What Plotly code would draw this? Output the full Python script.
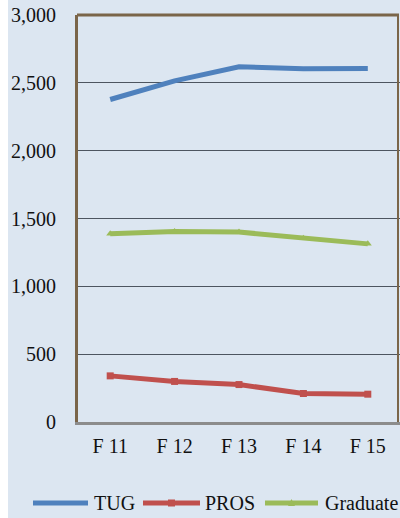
import plotly.graph_objects as go

categories = ["F 11", "F 12", "F 13", "F 14", "F 15"]
tug = [2377, 2515, 2618, 2604, 2606]
pros = [340, 299, 276, 210, 205]
graduate = [1387, 1404, 1400, 1355, 1313]
y_ticks = [0, 500, 1000, 1500, 2000, 2500, 3000]
y_tick_labels = ["0", "500", "1,000", "1,500", "2,000", "2,500", "3,000"]
series_names = ["TUG", "PROS", "Graduate"]
series_colors = ["#4f81bd", "#c0504d", "#9bbb59"]

BG = "#dce6f1"
FONT = "Liberation Serif, Times New Roman, serif"
W, H = 400, 518
L, R, T, B = 78, 0, 15, 96
PW, PH = W - L - R, H - T - B


def px_x(px):
    return (px - L) / PW


def px_y(py):
    return 1 - (py - T) / PH


fig = go.Figure()
fig.add_trace(go.Scatter(x=categories, y=tug, name=series_names[0], mode="lines",
                         line=dict(color=series_colors[0], width=5)))
fig.add_trace(go.Scatter(x=categories, y=pros, name=series_names[1], mode="lines+markers",
                         line=dict(color=series_colors[1], width=5),
                         marker=dict(symbol="square", size=7, color=series_colors[1])))
fig.add_trace(go.Scatter(x=categories, y=graduate, name=series_names[2], mode="lines+markers",
                         line=dict(color=series_colors[2], width=5),
                         marker=dict(symbol="triangle-up", size=7, color=series_colors[2])))

shapes = [
    dict(type="rect", xref="paper", yref="paper", x0=px_x(-2), x1=px_x(8), y0=-1, y1=2,
         fillcolor="#ffffff", line=dict(width=0), layer="below"),
    dict(type="line", xref="paper", yref="paper", x0=px_x(77), x1=px_x(399), y0=1, y1=1,
         line=dict(color="#7a6549", width=3), layer="above"),
    dict(type="line", xref="paper", yref="paper", x0=px_x(398), x1=px_x(398), y0=0, y1=1,
         line=dict(color="#7a6549", width=2), layer="above"),
]
annotations = []

# manual legend
leg_y = px_y(503)
leg_items = [(33, 88, 92), (143, 200, 203), (265, 318, 323)]
for i, (x0, x1, tx) in enumerate(leg_items):
    c = series_colors[i]
    shapes.append(dict(type="line", xref="paper", yref="paper", x0=px_x(x0), x1=px_x(x1),
                       y0=leg_y, y1=leg_y, line=dict(color=c, width=5)))
    mx = (x0 + x1) / 2
    if i == 1:
        shapes.append(dict(type="rect", xref="paper", yref="paper",
                           x0=px_x(mx - 3.5), x1=px_x(mx + 3.5),
                           y0=px_y(506.5), y1=px_y(499.5),
                           fillcolor=c, line=dict(width=0)))
    if i == 2:
        shapes.append(dict(type="path", xref="paper", yref="paper",
                           path=f"M {px_x(mx-3.5)},{px_y(506)} L {px_x(mx+3.5)},{px_y(506)} L {px_x(mx)},{px_y(499)} Z",
                           fillcolor=c, line=dict(width=0)))
    annotations.append(dict(xref="paper", yref="paper", x=px_x(tx), y=leg_y,
                            xanchor="left", yanchor="middle", showarrow=False,
                            text=series_names[i], font=dict(family=FONT, size=20, color="#111111")))

fig.update_layout(
    width=W, height=H,
    margin=dict(l=L, r=R, t=T, b=B, autoexpand=False),
    paper_bgcolor=BG, plot_bgcolor=BG,
    font=dict(family=FONT, size=20, color="#111111"),
    showlegend=False,
    shapes=shapes,
    annotations=annotations,
)
fig.update_xaxes(
    type="category", showgrid=False, showline=True, linecolor="#8c8c8c", linewidth=3,
    ticks="", ticklabelstandoff=4, range=[-0.5, 4.5], automargin=False,
)
fig.update_yaxes(
    range=[0, 3000], tickvals=y_ticks, ticktext=y_tick_labels,
    showgrid=True, gridcolor="#4d5560", gridwidth=1,
    showline=True, linecolor="#7a6549", linewidth=3,
    ticks="", ticklabelstandoff=15, zeroline=False, automargin=False,
)

fig.write_html("out.html", config={"displayModeBar": False},
               post_script="document.body.style.margin='0';")
